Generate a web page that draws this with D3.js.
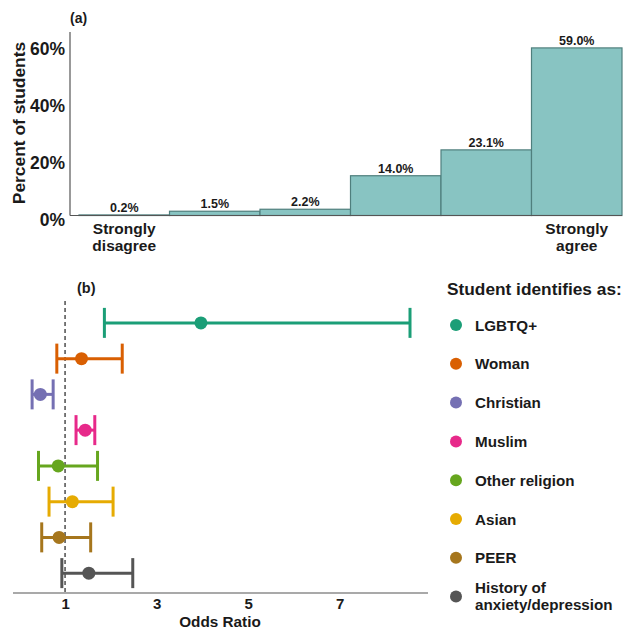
<!DOCTYPE html>
<html>
<head>
<meta charset="utf-8">
<script src="https://cdn.jsdelivr.net/npm/d3@7"></script>
<style>
  html, body { margin: 0; padding: 0; background: #fff; }
  svg { display: block; font-family: "Liberation Sans", Arial, Helvetica, sans-serif; font-weight: bold; }
</style>
</head>
<body>
<svg id="chart" width="626" height="633"></svg>
<script>
// Panel (a): agreement distribution
const agreeLevels = ["1", "2", "3", "4", "5", "6"];
const agreePercent = [0.2, 1.5, 2.2, 14.0, 23.1, 59.0];
const agreeLabels = ["0.2%", "1.5%", "2.2%", "14.0%", "23.1%", "59.0%"];
const percentTicks = [0, 20, 40, 60];

// Panel (b): odds ratios with confidence intervals
const groups = ["LGBTQ+", "Woman", "Christian", "Muslim", "Other religion", "Asian", "PEER", "History of anxiety/depression"];
const oddsRatio = [3.97, 1.36, 0.46, 1.44, 0.85, 1.16, 0.87, 1.52];
const ciLow = [1.86, 0.82, 0.28, 1.24, 0.42, 0.65, 0.49, 0.93];
const ciHigh = [8.54, 2.25, 0.74, 1.65, 1.71, 2.05, 1.56, 2.48];
const groupColors = ["#1b9e77", "#d95f02", "#7570b3", "#e7298a", "#66a61e", "#e6ab02", "#a6761d", "#555555"];
const oddsTicks = [1, 3, 5, 7];

const svg = d3.select("#chart");
const ink = "#1a1a1a";
const axisGray = "#555";
const fontFam = "'Liberation Sans', Arial, sans-serif";

// ---------- Panel (a) ----------
const xa = d3.scaleBand().domain(agreeLevels).range([79, 622]).padding(0);
const ya = d3.scaleLinear().domain([0, 64.6]).range([215.5, 32]);

const ga = svg.append("g");

ga.append("text").attr("x", 70).attr("y", 23).attr("font-size", 14).attr("fill", ink).text("(a)");

ga.selectAll("rect.bar").data(agreePercent).join("rect")
  .attr("class", "bar")
  .attr("x", (d, i) => xa(agreeLevels[i]))
  .attr("width", xa.bandwidth())
  .attr("y", d => ya(d))
  .attr("height", d => ya(0) - ya(d))
  .attr("fill", "#88c4c2")
  .attr("stroke", "#4f7f7d")
  .attr("stroke-width", 1.2);

ga.selectAll("text.val").data(agreePercent).join("text")
  .attr("class", "val")
  .attr("x", (d, i) => xa(agreeLevels[i]) + xa.bandwidth() / 2)
  .attr("y", d => ya(d) - 3)
  .attr("text-anchor", "middle")
  .attr("font-size", 12.5)
  .attr("fill", ink)
  .text((d, i) => agreeLabels[i]);

// axis lines
ga.append("line").attr("x1", 70).attr("x2", 70).attr("y1", ya.range()[1]).attr("y2", ya(0))
  .attr("stroke", axisGray).attr("stroke-width", 1.2);
ga.append("line").attr("x1", 70).attr("x2", 622).attr("y1", ya(0)).attr("y2", ya(0))
  .attr("stroke", axisGray).attr("stroke-width", 1.2);

const yAxisA = d3.axisLeft(ya).tickValues(percentTicks).tickFormat(d => d + "%").tickSize(0).tickPadding(5);
const yAxisG = ga.append("g").attr("transform", "translate(70,0)").call(yAxisA);
yAxisG.select(".domain").remove();
yAxisG.selectAll("text").attr("font-size", 17.5).attr("fill", ink)
  .attr("font-family", fontFam).attr("font-weight", "bold")
  .attr("dy", "0.55em");

ga.append("text")
  .attr("transform", "translate(25,123) rotate(-90)")
  .attr("text-anchor", "middle")
  .attr("font-size", 17.4)
  .attr("fill", ink)
  .text("Percent of students");

const catLabel = (x, lines) => {
  const t = ga.append("text").attr("x", x).attr("y", 234).attr("text-anchor", "middle")
    .attr("font-size", 15.5).attr("fill", ink);
  lines.forEach((l, i) => t.append("tspan").attr("x", x).attr("dy", i === 0 ? 0 : 16.5).text(l));
};
catLabel(xa("1") + xa.bandwidth() / 2, ["Strongly", "disagree"]);
catLabel(xa("6") + xa.bandwidth() / 2, ["Strongly", "agree"]);

// ---------- Panel (b) ----------
const xb = d3.scaleLinear().domain([0, 2]).range([19.3, 110.8]);
const yb = d3.scaleBand().domain(groups).range([305, 591]).padding(0);
const rowY = g => yb(g) + yb.bandwidth() / 2;

const gb = svg.append("g");
gb.append("text").attr("x", 77).attr("y", 293).attr("font-size", 14.5).attr("fill", ink).text("(b)");

// reference line at OR = 1
gb.append("line").attr("x1", xb(1)).attr("x2", xb(1)).attr("y1", 301).attr("y2", 592)
  .attr("stroke", "#222").attr("stroke-width", 1.2).attr("stroke-dasharray", "4,3");

const rows = gb.selectAll("g.row").data(groups).join("g").attr("class", "row");
const capH = 15;
rows.append("line")
  .attr("x1", (d, i) => xb(ciLow[i])).attr("x2", (d, i) => xb(ciHigh[i]))
  .attr("y1", d => rowY(d)).attr("y2", d => rowY(d))
  .attr("stroke", (d, i) => groupColors[i]).attr("stroke-width", 3);
rows.append("line")
  .attr("x1", (d, i) => xb(ciLow[i])).attr("x2", (d, i) => xb(ciLow[i]))
  .attr("y1", d => rowY(d) - capH).attr("y2", d => rowY(d) + capH)
  .attr("stroke", (d, i) => groupColors[i]).attr("stroke-width", 3);
rows.append("line")
  .attr("x1", (d, i) => xb(ciHigh[i])).attr("x2", (d, i) => xb(ciHigh[i]))
  .attr("y1", d => rowY(d) - capH).attr("y2", d => rowY(d) + capH)
  .attr("stroke", (d, i) => groupColors[i]).attr("stroke-width", 3);
rows.append("circle")
  .attr("cx", (d, i) => xb(oddsRatio[i])).attr("cy", d => rowY(d)).attr("r", 6.5)
  .attr("fill", (d, i) => groupColors[i]);

// x axis
gb.append("line").attr("x1", 13).attr("x2", 428).attr("y1", 593).attr("y2", 593)
  .attr("stroke", axisGray).attr("stroke-width", 1.2);
const xAxisB = d3.axisBottom(xb).tickValues(oddsTicks).tickFormat(d3.format("d")).tickSize(0).tickPadding(5);
const xAxisG = gb.append("g").attr("transform", "translate(0,593)").call(xAxisB);
xAxisG.select(".domain").remove();
xAxisG.selectAll("text").attr("font-size", 15).attr("fill", ink)
  .attr("font-family", fontFam).attr("font-weight", "bold");
gb.append("text").attr("x", 220).attr("y", 627).attr("text-anchor", "middle")
  .attr("font-size", 15.3).attr("fill", ink).text("Odds Ratio");

// legend
const lg = svg.append("g");
lg.append("text").attr("x", 447).attr("y", 295).attr("font-size", 17.3).attr("fill", ink)
  .text("Student identifies as:");
const legY = i => 325 + i * 38.8;
const items = lg.selectAll("g.item").data(groups).join("g").attr("class", "item");
items.append("circle").attr("cx", 456).attr("cy", (d, i) => legY(i)).attr("r", 6)
  .attr("fill", (d, i) => groupColors[i]);
items.each(function (d, i) {
  const t = d3.select(this).append("text").attr("x", 475).attr("font-size", 15.2).attr("fill", ink);
  if (d === "History of anxiety/depression") {
    t.attr("y", legY(i) - 4);
    t.append("tspan").attr("x", 475).text("History of");
    t.append("tspan").attr("x", 475).attr("dy", 17).text("anxiety/depression");
  } else {
    t.attr("y", legY(i) + 5.5).text(d);
  }
});
</script>
</body>
</html>
